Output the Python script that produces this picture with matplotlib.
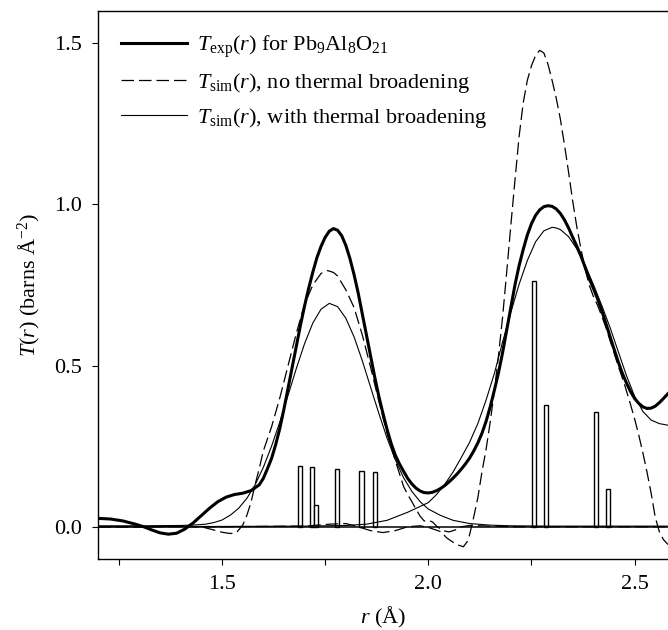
import matplotlib
matplotlib.use("Agg")
import matplotlib.pyplot as plt
from matplotlib.ticker import FixedLocator, FormatStrFormatter

plt.rcParams["font.family"] = ["Liberation Serif", "DejaVu Serif"]
plt.rcParams["mathtext.fontset"] = "custom"
plt.rcParams["mathtext.rm"] = "Liberation Serif"
plt.rcParams["mathtext.it"] = "Liberation Serif:italic"
plt.rcParams["mathtext.bf"] = "Liberation Serif:bold"

r_exp = [1.200, 1.230, 1.260, 1.290, 1.310, 1.330, 1.350, 1.370, 1.390, 1.410,
         1.430, 1.450, 1.470, 1.490, 1.510, 1.530, 1.550, 1.570, 1.590, 1.600,
         1.610, 1.620, 1.630, 1.640, 1.650, 1.660, 1.670, 1.680, 1.690, 1.700,
         1.710, 1.720, 1.730, 1.740, 1.750, 1.760, 1.770, 1.780, 1.790, 1.800,
         1.810, 1.820, 1.830, 1.840, 1.850, 1.860, 1.870, 1.880, 1.890, 1.900,
         1.910, 1.920, 1.930, 1.940, 1.950, 1.960, 1.970, 1.980, 1.990, 2.000,
         2.010, 2.020, 2.030, 2.040, 2.050, 2.060, 2.070, 2.080, 2.090, 2.100,
         2.110, 2.120, 2.130, 2.140, 2.150, 2.160, 2.170, 2.180, 2.190, 2.200,
         2.210, 2.220, 2.230, 2.240, 2.250, 2.260, 2.270, 2.280, 2.290, 2.300,
         2.310, 2.320, 2.330, 2.340, 2.350, 2.360, 2.370, 2.380, 2.390, 2.400,
         2.410, 2.420, 2.430, 2.440, 2.450, 2.460, 2.470, 2.480, 2.490, 2.500,
         2.510, 2.520, 2.530, 2.540, 2.550, 2.560, 2.570, 2.581]
t_exp = [0.026, 0.024, 0.018, 0.008, 0.000, -0.010, -0.019, -0.023, -0.020, -0.007,
         0.012, 0.035, 0.058, 0.078, 0.092, 0.100, 0.104, 0.112, 0.130, 0.150,
         0.180, 0.212, 0.255, 0.305, 0.365, 0.430, 0.495, 0.560, 0.625, 0.685,
         0.740, 0.790, 0.835, 0.870, 0.898, 0.917, 0.925, 0.920, 0.903, 0.873,
         0.832, 0.782, 0.725, 0.660, 0.595, 0.530, 0.465, 0.405, 0.352, 0.302,
         0.258, 0.222, 0.195, 0.172, 0.150, 0.133, 0.120, 0.111, 0.106, 0.105,
         0.107, 0.112, 0.119, 0.128, 0.139, 0.151, 0.164, 0.179, 0.195, 0.213,
         0.235, 0.260, 0.290, 0.327, 0.372, 0.423, 0.477, 0.540, 0.610, 0.680,
         0.750, 0.810, 0.860, 0.905, 0.940, 0.966, 0.983, 0.993, 0.996, 0.994,
         0.986, 0.972, 0.952, 0.927, 0.898, 0.870, 0.840, 0.805, 0.770, 0.740,
         0.708, 0.672, 0.633, 0.592, 0.552, 0.513, 0.477, 0.447, 0.420, 0.398,
         0.383, 0.372, 0.367, 0.368, 0.374, 0.385, 0.398, 0.413]

# simulated, no thermal broadening: Al-O and Pb-O parts
r_sim_al = [1.20, 1.30, 1.40, 1.45, 1.48, 1.50, 1.52, 1.535, 1.55, 1.56,
            1.57, 1.58, 1.59, 1.60, 1.62, 1.64, 1.66, 1.68, 1.70, 1.72,
            1.74, 1.755, 1.77, 1.78, 1.80, 1.82, 1.84, 1.86, 1.88, 1.90,
            1.92, 1.94, 1.95, 1.96, 1.97, 1.98, 1.99, 2.00, 2.01, 2.02,
            2.035, 2.05, 2.065, 2.08, 2.10, 2.20, 2.581]
t_sim_al = [0.000, 0.000, 0.002, 0.000, -0.010, -0.017, -0.021, -0.018, 0.005, 0.035,
            0.075, 0.130, 0.180, 0.235, 0.310, 0.400, 0.500, 0.600, 0.690, 0.750,
            0.786, 0.795, 0.789, 0.778, 0.735, 0.680, 0.595, 0.495, 0.390, 0.290,
            0.205, 0.125, 0.100, 0.078, 0.055, 0.033, 0.018, 0.020, 0.015, 0.002,
            -0.012, -0.016, -0.010, 0.000, 0.004, 0.000, 0.000]

r_sim_pb = [1.20, 1.50, 1.70, 1.76, 1.80, 1.83, 1.86, 1.89, 1.92, 1.95,
            1.98, 2.00, 2.03, 2.045, 2.06, 2.075, 2.085, 2.095, 2.10, 2.11,
            2.12, 2.13, 2.14, 2.15, 2.16, 2.17, 2.18, 2.19, 2.20, 2.21,
            2.22, 2.23, 2.24, 2.25, 2.26, 2.27, 2.28, 2.29, 2.30, 2.31,
            2.32, 2.33, 2.34, 2.35, 2.36, 2.37, 2.38, 2.39, 2.40, 2.41,
            2.42, 2.43, 2.44, 2.45, 2.46, 2.475, 2.49, 2.50, 2.51, 2.52,
            2.53, 2.54, 2.55, 2.56, 2.57, 2.581]
t_sim_pb = [0.000, 0.000, 0.002, 0.008, 0.010, 0.000, -0.012, -0.018, -0.012, 0.000,
            0.003, -0.002, -0.015, -0.035, -0.048, -0.058, -0.062, -0.045, -0.025, 0.030,
            0.090, 0.170, 0.240, 0.325, 0.420, 0.530, 0.650, 0.790, 0.935, 1.075,
            1.210, 1.315, 1.385, 1.430, 1.462, 1.478, 1.470, 1.435, 1.385, 1.330,
            1.265, 1.185, 1.100, 1.010, 0.930, 0.862, 0.800, 0.750, 0.715, 0.688,
            0.655, 0.620, 0.580, 0.540, 0.500, 0.444, 0.380, 0.335, 0.285, 0.230,
            0.170, 0.105, 0.030, -0.015, -0.040, -0.055]

# simulated, with thermal broadening
r_br_al = [1.20, 1.30, 1.40, 1.44, 1.46, 1.48, 1.50, 1.52, 1.54, 1.56,
           1.58, 1.60, 1.62, 1.64, 1.66, 1.68, 1.70, 1.72, 1.74, 1.76,
           1.78, 1.80, 1.82, 1.84, 1.86, 1.88, 1.90, 1.92, 1.94, 1.96,
           1.98, 2.00, 2.03, 2.06, 2.10, 2.15, 2.20, 2.30, 2.581]
t_br_al = [0.003, 0.003, 0.004, 0.006, 0.008, 0.013, 0.021, 0.036, 0.057, 0.088,
           0.130, 0.184, 0.250, 0.325, 0.408, 0.491, 0.568, 0.632, 0.675, 0.693,
           0.683, 0.647, 0.589, 0.515, 0.433, 0.352, 0.275, 0.208, 0.152, 0.110,
           0.078, 0.055, 0.035, 0.020, 0.010, 0.005, 0.003, 0.002, 0.002]

r_br_pb = [1.20, 1.50, 1.70, 1.80, 1.85, 1.90, 1.95, 2.00, 2.02, 2.04,
           2.06, 2.08, 2.10, 2.12, 2.14, 2.16, 2.18, 2.20, 2.22, 2.24,
           2.26, 2.28, 2.30, 2.31, 2.32, 2.34, 2.36, 2.38, 2.40, 2.42,
           2.44, 2.46, 2.48, 2.50, 2.52, 2.54, 2.56, 2.581]
t_br_pb = [0.000, 0.001, 0.002, 0.004, 0.008, 0.020, 0.045, 0.075, 0.100, 0.132,
           0.170, 0.215, 0.262, 0.320, 0.393, 0.475, 0.573, 0.665, 0.752, 0.826,
           0.884, 0.918, 0.929, 0.927, 0.922, 0.900, 0.862, 0.812, 0.752, 0.688,
           0.620, 0.545, 0.470, 0.405, 0.358, 0.331, 0.320, 0.315]

# bond-length sticks
bar_r = [1.689, 1.718, 1.7285, 1.778, 1.838, 1.870, 2.256, 2.286, 2.407, 2.435]
bar_h = [0.189, 0.186, 0.066, 0.179, 0.174, 0.171, 0.763, 0.377, 0.356, 0.117]

fig = plt.figure(figsize=(6.68, 6.30), dpi=100)
ax = fig.add_axes([98.3 / 668, 1 - 559 / 630, 1 - 98.3 / 668, (559 - 11) / 630])

ax.bar(bar_r, bar_h, width=0.0105, color="white", edgecolor="black",
       linewidth=1.0, zorder=2)
ax.axhline(0, color="black", lw=1.1, zorder=3)

ax.plot(r_exp, t_exp, color="black", lw=2.2, zorder=5, solid_joinstyle="round",
        label=r"$T_{\mathrm{exp}}\mathit{(r)}$ for Pb$_9$Al$_8$O$_{21}$")
ax.plot(r_sim_al, t_sim_al, color="black", lw=0.9, dashes=(10, 4), zorder=4,
        label=r"$T_{\mathrm{sim}}\mathit{(r)}$, no thermal broadening")
ax.plot(r_sim_pb, t_sim_pb, color="black", lw=0.9, dashes=(10, 4), zorder=4)
ax.plot(r_br_al, t_br_al, color="black", lw=0.8, zorder=4,
        label=r"$T_{\mathrm{sim}}\mathit{(r)}$, with thermal broadening")
ax.plot(r_br_pb, t_br_pb, color="black", lw=0.8, zorder=4)

ax.set_xlim(1.2, 2.581)
ax.set_ylim(-0.1, 1.6)
ax.xaxis.set_major_locator(FixedLocator([1.5, 2.0, 2.5]))
ax.xaxis.set_minor_locator(FixedLocator([1.25, 1.75, 2.25]))
ax.yaxis.set_major_locator(FixedLocator([0.0, 0.5, 1.0, 1.5]))
ax.xaxis.set_major_formatter(FormatStrFormatter("%.1f"))
ax.yaxis.set_major_formatter(FormatStrFormatter("%.1f"))
ax.tick_params(axis="both", which="both", direction="out", length=4.5,
               width=0.8, labelsize=16, pad=7)
ax.spines["right"].set_visible(False)
for s in ("left", "top", "bottom"):
    ax.spines[s].set_linewidth(1.0)

ax.set_xlabel(r"$r$ (Å)", fontsize=16, labelpad=8)
ax.set_ylabel(r"$T\mathit{(r)}$ (barns Å$^{-2}$)", fontsize=16, labelpad=8)

ax.legend(loc="upper left", frameon=False, fontsize=16, handlelength=3.0,
          handletextpad=0.45, labelspacing=0.5, borderpad=0.4,
          borderaxespad=0.6, bbox_to_anchor=(0.0, 1.0))

fig.savefig("out.png", dpi=100)
